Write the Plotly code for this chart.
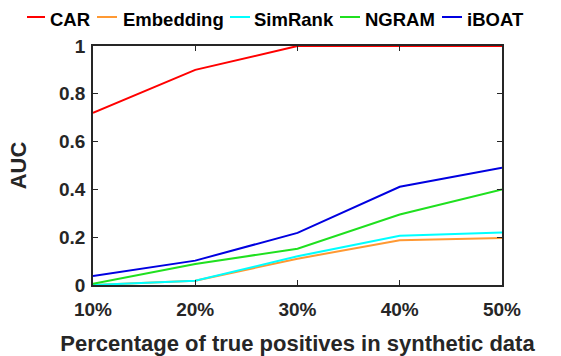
import plotly.graph_objects as go

# ---- data ----
x_pct = [10, 20, 30, 40, 50]
x_labels = ["10%", "20%", "30%", "40%", "50%"]
car = [0.72, 0.90, 1.00, 1.00, 1.00]
embedding = [0.0, 0.018, 0.11, 0.187, 0.197]
simrank = [0.0, 0.018, 0.12, 0.206, 0.22]
ngram = [0.005, 0.088, 0.152, 0.295, 0.40]
iboat = [0.038, 0.102, 0.218, 0.411, 0.491]
y_ticks = [0, 0.2, 0.4, 0.6, 0.8, 1]
y_labels = ["0", "0.2", "0.4", "0.6", "0.8", "1"]

series_names = ["CAR", "Embedding", "SimRank", "NGRAM", "iBOAT"]
series_vals = [car, embedding, simrank, ngram, iboat]
colors = ["#FF0000", "#FF9933", "#00FFFF", "#1FE01F", "#0000E0"]

W, H = 561, 356
L, R, T, B = 93, 59, 46, 71
FONT = "Liberation Sans, Arial, Helvetica, sans-serif"
TXT = "#262626"

fig = go.Figure()
for name, vals, c in zip(series_names, series_vals, colors):
    fig.add_trace(go.Scatter(x=x_pct, y=vals, mode="lines", name=name,
                             line=dict(color=c, width=2), showlegend=False))

# manual legend (layout only)
pw, ph = W - L - R, H - T - B
def px(xp): return (xp - L) / pw
def py(yp): return (H - B - yp) / ph
leg_line = [(27, 45), (97, 117), (230, 250), (340, 360), (442, 462)]
leg_text = [48, 121, 252, 363, 465]
leg_y = 17
shapes = []
annotations = []
for (x0, x1), tx, name, c in zip(leg_line, leg_text, series_names, colors):
    shapes.append(dict(type="line", xref="paper", yref="paper",
                       x0=px(x0), x1=px(x1), y0=py(leg_y), y1=py(leg_y),
                       line=dict(color=c, width=2)))
    annotations.append(dict(text=name, xref="paper", yref="paper",
                            x=px(tx), y=py(leg_y + 2), xanchor="left", yanchor="middle",
                            showarrow=False,
                            font=dict(family=FONT, size=18.5, color="black", weight="bold")))

fig.update_layout(
    width=W, height=H,
    margin=dict(l=L, r=R, t=T, b=B, pad=0, autoexpand=False),
    plot_bgcolor="white", paper_bgcolor="white",
    font=dict(family=FONT, color=TXT, weight="bold"),
    shapes=shapes, annotations=annotations,
    xaxis=dict(range=[10, 50], tickvals=x_pct, ticktext=x_labels,
               ticks="inside", ticklen=5, tickwidth=1, tickcolor=TXT,
               showline=True, linecolor=TXT, linewidth=1.5, mirror="ticks",
               showgrid=False, zeroline=False, ticklabelstandoff=6,
               automargin=False,
               tickfont=dict(family=FONT, size=19, color=TXT, weight="bold"),
               title=dict(text="Percentage of true positives in synthetic data",
                          font=dict(family=FONT, size=22, color=TXT, weight="bold"),
                          standoff=20)),
    yaxis=dict(range=[0, 1], tickvals=y_ticks, ticktext=y_labels,
               ticks="inside", ticklen=5, tickwidth=1, tickcolor=TXT,
               showline=True, linecolor=TXT, linewidth=1.5, mirror="ticks",
               showgrid=False, zeroline=False, ticklabelstandoff=2,
               automargin=False,
               tickfont=dict(family=FONT, size=19, color=TXT, weight="bold"),
               title=dict(text="AUC",
                          font=dict(family=FONT, size=22, color=TXT, weight="bold"),
                          standoff=26)),
)

fig.write_html("out.html")
